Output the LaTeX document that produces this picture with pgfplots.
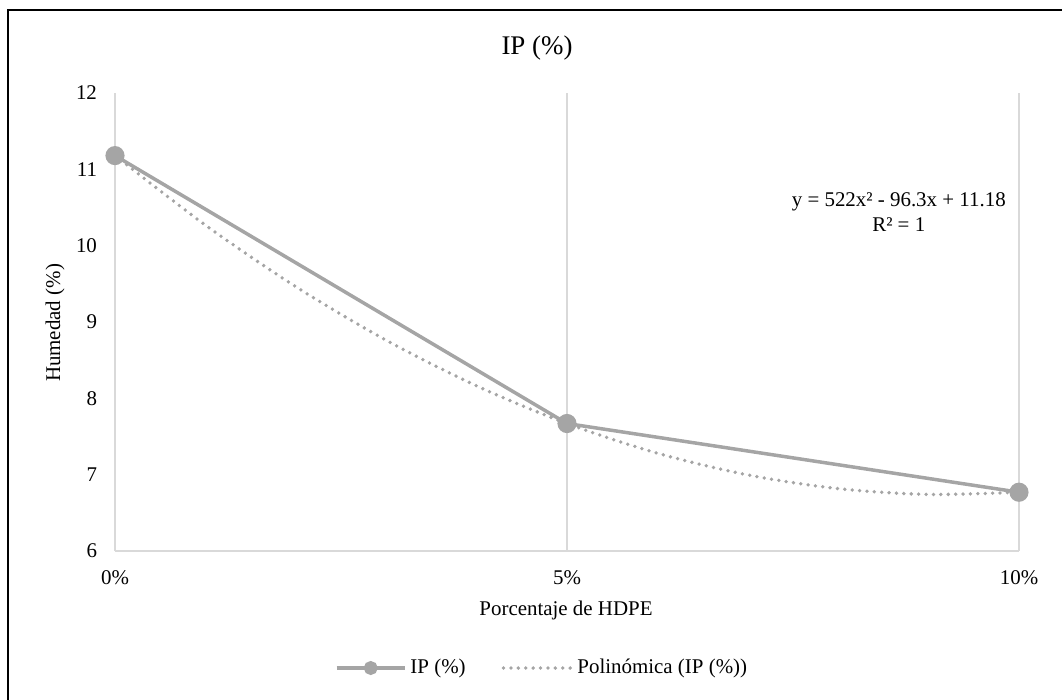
\documentclass[border=0pt]{standalone}
\usepackage{pgfplots}
\pgfplotsset{compat=1.18}
\usepackage{fontspec}
\setmainfont{Liberation Serif}
\definecolor{ser}{HTML}{A5A5A5}
\definecolor{grd}{HTML}{D9D9D9}
\begin{document}
\begin{tikzpicture}
\useasboundingbox (0,0) rectangle (531bp,350bp);
\begin{scope}
\clip (0,0) rectangle (531bp,350bp);
\draw[black,line width=1bp] (4bp,-20bp) rectangle (560bp,345bp);
\end{scope}
\node[font=\fontsize{13.5}{16}\selectfont] at (268.5bp,326bp) {IP (\%)};
\node[font=\fontsize{10.5}{12}\selectfont] at (283bp,45bp) {Porcentaje de HDPE};
\node[font=\fontsize{10.5}{12}\selectfont,rotate=90] at (27.5bp,188.5bp) {Humedad (\%)};
\begin{axis}[
  at={(57.5bp,74.5bp)}, anchor=south west,
  scale only axis, width=452bp, height=229bp,
  xmin=0, xmax=2, ymin=6, ymax=12,
  xtick={0,1,2}, xticklabels={0\%,5\%,10\%},
  ytick={6,7,8,9,10,11,12},
  axis x line*=bottom, axis y line*=left,
  axis line style={grd, line width=0.75bp, -},
  xmajorgrids, major grid style={grd, line width=0.75bp},
  major tick length=0pt,
  tick label style={font=\fontsize{10.5}{12}\selectfont, /pgf/number format/assume math mode=true},
  yticklabel style={xshift=-5.5bp},
  xticklabel style={yshift=-6.5bp},
  legend columns=2,
  legend style={at={(0.4735,-0.2555)}, anchor=center, draw=none, fill=none,
    font=\fontsize{10.5}{12}\selectfont,
    /tikz/every even column/.append style={column sep=16bp}},
  legend image code/.code={\draw[mark repeat=2,mark phase=2,mark size=2.6bp] plot coordinates {(0bp,0bp)(17bp,0bp)(34bp,0bp)};},
  clip=false,
]
\addplot[ser, line width=1.75bp, mark=*, mark size=3.9bp, mark options={solid, fill=ser, draw=ser}]
  coordinates {(0,11.18) (1,7.67) (2,6.77)};
\addlegendentry{IP (\%)}
\addplot[ser, line width=1.9bp, line cap=round, dash pattern=on 0bp off 3.7bp, smooth]
  coordinates {(0,11.18) (0.2,10.2692) (0.4,9.4628) (0.6,8.7608) (0.8,8.1632) (1,7.67) (1.2,7.2812) (1.4,6.9968) (1.6,6.8168) (1.8,6.7412) (2,6.77)};
\addlegendentry{Polinómica (IP (\%))}
\node[align=center, font=\fontsize{10.5}{12.5}\selectfont] at (axis cs:1.734,10.435) {y = 522x² - 96.3x + 11.18\\R² = 1};
\end{axis}
\end{tikzpicture}
\end{document}
